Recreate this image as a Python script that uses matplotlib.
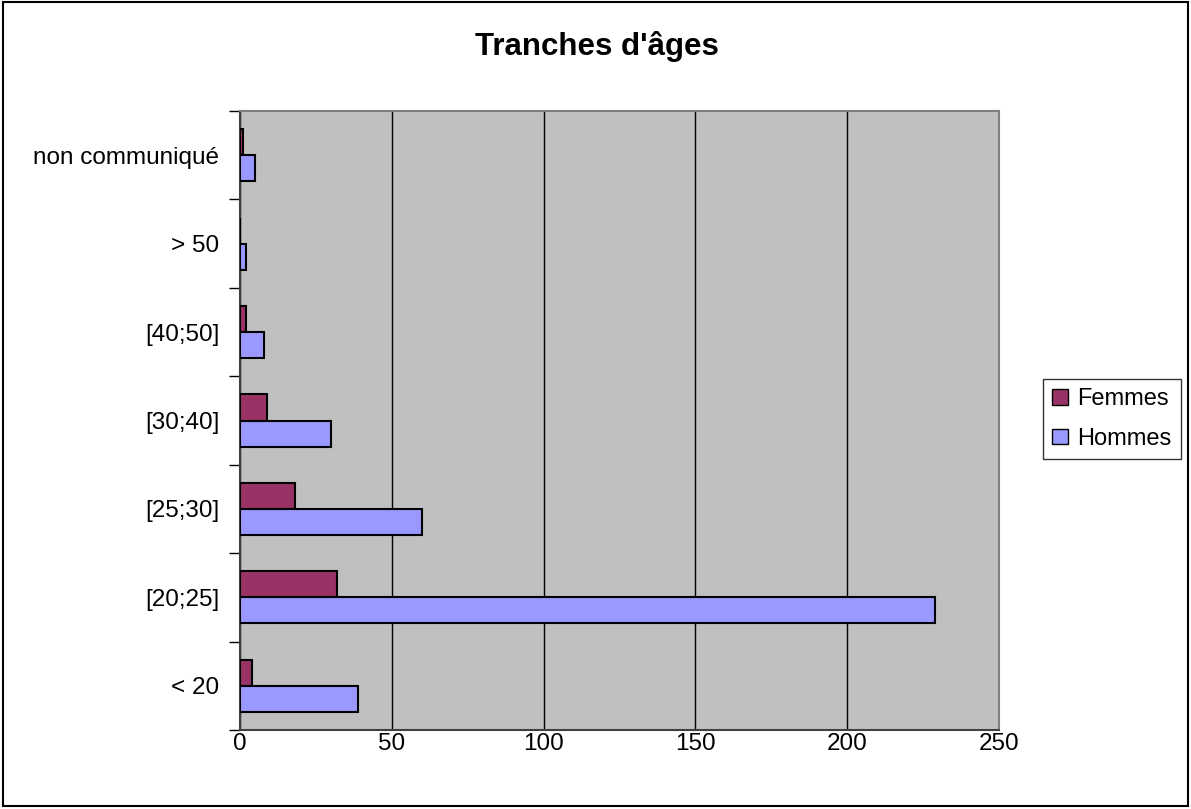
import matplotlib
matplotlib.use('Agg')
import matplotlib.pyplot as plt
from matplotlib.patches import Rectangle, Patch
import numpy as np

plt.rcParams['font.family'] = ['Liberation Sans', 'DejaVu Sans']

# Data
categories = ['< 20', '[20;25]', '[25;30]', '[30;40]', '[40;50]', '> 50', 'non communiqué']
femmes = [4, 32, 18, 9, 2, 0, 1]
hommes = [39, 229, 60, 30, 8, 2, 5]

col_f = '#993366'
col_h = '#9999FF'

fig = plt.figure(figsize=(11.91, 8.09), dpi=100)
ax = fig.add_axes([240/1191, 1-730/809, 759/1191, 619/809])
ax.set_facecolor('#C0C0C0')

y = np.arange(len(categories))
h = 0.295
ax.barh(y + h/2, femmes, height=h, color=col_f, edgecolor='black', linewidth=1.5, zorder=3)
ax.barh(y - h/2, hommes, height=h, color=col_h, edgecolor='black', linewidth=1.5, zorder=3)

ax.set_xlim(0, 250)
ax.set_ylim(-0.5, len(categories) - 0.5)
ax.set_xticks(range(0, 251, 50))
ax.tick_params(axis='x', labelsize=17.5, length=0, pad=2)
ax.grid(axis='x', color='black', linewidth=1, zorder=1)

# category boundaries as ticks, labels in the middle
ax.set_yticks(np.arange(-0.5, len(categories)), labels=[''] * (len(categories) + 1))
ax.set_yticks(y, labels=categories, minor=True)
ax.tick_params(axis='y', which='major', length=8, width=1, direction='out')
ax.tick_params(axis='y', which='minor', length=0, labelsize=17.5, pad=15)
for lab in ax.get_yticklabels(minor=True):
    lab.set_va('center_baseline')

for s in ['left', 'bottom']:
    ax.spines[s].set_color('#404040')
    ax.spines[s].set_linewidth(1.5)
for s in ['top', 'right']:
    ax.spines[s].set_color('#808080')
    ax.spines[s].set_linewidth(1.5)

fig.text(597/1191, 1-47/809, "Tranches d'âges", ha='center', va='center',
         fontsize=22.5, fontweight='bold')

handles = [Patch(facecolor=col_f, edgecolor='black'), Patch(facecolor=col_h, edgecolor='black')]
leg = fig.legend(handles, ['Femmes', 'Hommes'], loc='center left',
                 bbox_to_anchor=(1043/1191, 1-419/809), fontsize=17,
                 handlelength=0.65, handleheight=0.65, handletextpad=0.4,
                 fancybox=False, frameon=True, borderpad=0.4, labelspacing=0.75,
                 borderaxespad=0)
leg.get_frame().set_edgecolor('black')
leg.get_frame().set_linewidth(1)

# outer chart border
fig.patches.append(Rectangle((3/1191, 3/809), 1185/1191, 804/809, transform=fig.transFigure,
                             fill=False, edgecolor='black', linewidth=1.5))

fig.savefig('out.png', dpi=100)
